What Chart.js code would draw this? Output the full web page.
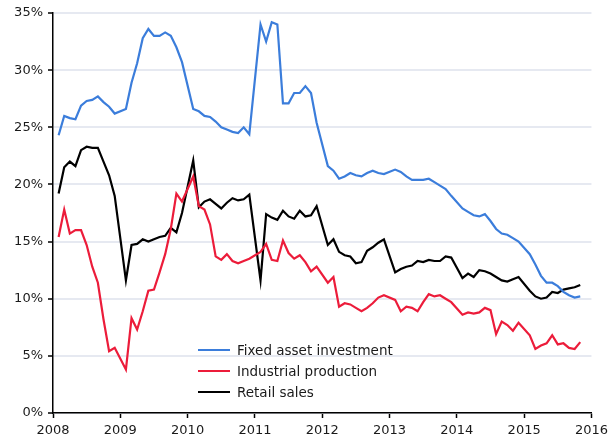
<!doctype html>
<html lang="en">
<head>
    <meta charset="utf-8">
    <title>China activity indicators</title>
    <script src="https://cdn.jsdelivr.net/npm/chart.js"></script>
    <style>
        html, body { margin: 0; padding: 0; background: #fff; }
    </style>
</head>
<body>
    <canvas id="chartEl" width="613" height="442"></canvas>
    <script>
        // monthly readings, January folded into February
        const months = [
            '2008-02', '2008-03', '2008-04', '2008-05', '2008-06', '2008-07', '2008-08', '2008-09', '2008-10', '2008-11', '2008-12',
            '2009-02', '2009-03', '2009-04', '2009-05', '2009-06', '2009-07', '2009-08', '2009-09', '2009-10', '2009-11', '2009-12',
            '2010-02', '2010-03', '2010-04', '2010-05', '2010-06', '2010-07', '2010-08', '2010-09', '2010-10', '2010-11', '2010-12',
            '2011-02', '2011-03', '2011-04', '2011-05', '2011-06', '2011-07', '2011-08', '2011-09', '2011-10', '2011-11', '2011-12',
            '2012-02', '2012-03', '2012-04', '2012-05', '2012-06', '2012-07', '2012-08', '2012-09', '2012-10', '2012-11', '2012-12',
            '2013-02', '2013-03', '2013-04', '2013-05', '2013-06', '2013-07', '2013-08', '2013-09', '2013-10', '2013-11', '2013-12',
            '2014-02', '2014-03', '2014-04', '2014-05', '2014-06', '2014-07', '2014-08', '2014-09', '2014-10', '2014-11', '2014-12',
            '2015-02', '2015-03', '2015-04', '2015-05', '2015-06', '2015-07', '2015-08', '2015-09', '2015-10', '2015-11'
        ];

        const fixedAssetInvestment = [
            24.3, 26.0, 25.8, 25.7, 26.9, 27.3, 27.4, 27.7, 27.2, 26.8, 26.2,
            26.6, 28.9, 30.6, 32.8, 33.6, 33.0, 33.0, 33.3, 33.0, 32.0, 30.7,
            26.6, 26.4, 26.0, 25.9, 25.5, 25.0, 24.8, 24.6, 24.5, 25.0, 24.4,
            34.0, 32.5, 34.2, 34.0, 27.1, 27.1, 28.0, 28.0, 28.6, 28.0, 25.4,
            21.6, 21.2, 20.5, 20.7, 21.0, 20.8, 20.7, 21.0, 21.2, 21.0, 20.9,
            21.3, 21.1, 20.7, 20.4, 20.4, 20.4, 20.5, 20.2, 19.9, 19.6, 19.0,
            17.9, 17.6, 17.3, 17.2, 17.4, 16.8, 16.1, 15.7, 15.6, 15.3, 15.0,
            13.9, 13.0, 12.0, 11.4, 11.4, 11.1, 10.6, 10.3, 10.1, 10.2
        ];

        const industrialProduction = [
            15.4, 17.8, 15.7, 16.0, 16.0, 14.7, 12.8, 11.4, 8.2, 5.4, 5.7,
            3.8, 8.3, 7.3, 8.9, 10.7, 10.8, 12.3, 13.9, 16.1, 19.2, 18.5,
            20.7, 18.1, 17.8, 16.5, 13.7, 13.4, 13.9, 13.3, 13.1, 13.3, 13.5,
            14.1, 14.8, 13.4, 13.3, 15.1, 14.0, 13.5, 13.8, 13.2, 12.4, 12.8,
            11.4, 11.9, 9.3, 9.6, 9.5, 9.2, 8.9, 9.2, 9.6, 10.1, 10.3,
            9.9, 8.9, 9.3, 9.2, 8.9, 9.7, 10.4, 10.2, 10.3, 10.0, 9.7,
            8.6, 8.8, 8.7, 8.8, 9.2, 9.0, 6.9, 8.0, 7.7, 7.2, 7.9,
            6.8, 5.6, 5.9, 6.1, 6.8, 6.0, 6.1, 5.7, 5.6, 6.2
        ];

        const retailSales = [
            19.2, 21.5, 22.0, 21.6, 23.0, 23.3, 23.2, 23.2, 22.0, 20.8, 19.0,
            11.6, 14.7, 14.8, 15.2, 15.0, 15.2, 15.4, 15.5, 16.2, 15.8, 17.5,
            22.1, 18.0, 18.5, 18.7, 18.3, 17.9, 18.4, 18.8, 18.6, 18.7, 19.1,
            11.6, 17.4, 17.1, 16.9, 17.7, 17.2, 17.0, 17.7, 17.2, 17.3, 18.1,
            14.7, 15.2, 14.1, 13.8, 13.7, 13.1, 13.2, 14.2, 14.5, 14.9, 15.2,
            12.3, 12.6, 12.8, 12.9, 13.3, 13.2, 13.4, 13.3, 13.3, 13.7, 13.6,
            11.8, 12.2, 11.9, 12.5, 12.4, 12.2, 11.9, 11.6, 11.5, 11.7, 11.9,
            10.7, 10.2, 10.0, 10.1, 10.6, 10.5, 10.8, 10.9, 11.0, 11.2
        ];

        const seriesNames = ['Fixed asset investment', 'Industrial production', 'Retail sales'];
        const seriesColors = ['#3b7ddb', '#ec1c3a', '#000000'];

        const FONT = '"DejaVu Sans", Verdana, sans-serif';

        // '2008-02' -> 2008.083
        const toYear = (m) => {
            const [y, mo] = m.split('-').map(Number);
            return y + (mo - 1) / 12;
        };
        const toPoints = (values) => values.map((v, i) => ({ x: toYear(months[i]), y: v }));

        // legend sits inside the plot, lower middle
        const insideLegend = {
            id: 'insideLegend',
            afterDatasetsDraw(chart) {
                const { ctx, chartArea } = chart;
                const x0 = chartArea.left + 145;
                const y0 = chartArea.bottom - 63;
                ctx.save();
                ctx.font = '13.5px ' + FONT;
                ctx.textBaseline = 'middle';
                chart.data.datasets.forEach((ds, i) => {
                    const y = y0 + i * 21;
                    ctx.strokeStyle = ds.borderColor;
                    ctx.lineWidth = 2;
                    ctx.beginPath();
                    ctx.moveTo(x0, y);
                    ctx.lineTo(x0 + 32, y);
                    ctx.stroke();
                    ctx.fillStyle = '#1a1a1a';
                    ctx.fillText(ds.label, x0 + 39, y + 1);
                });
                ctx.restore();
            }
        };

        const data = {
            datasets: [
                { label: seriesNames[0], data: toPoints(fixedAssetInvestment), borderColor: seriesColors[0] },
                { label: seriesNames[1], data: toPoints(industrialProduction), borderColor: seriesColors[1] },
                { label: seriesNames[2], data: toPoints(retailSales), borderColor: seriesColors[2] },
            ].map((d) => ({ ...d, borderWidth: 2.2, pointRadius: 0, tension: 0, fill: false }))
        };

        const config = {
            type: 'line',
            data: data,
            options: {
                responsive: false,
                animation: false,
                layout: { padding: { top: 13, right: 17, left: 0, bottom: 0 } },
                plugins: {
                    legend: { display: false },
                    tooltip: { enabled: false }
                },
                scales: {
                    x: {
                        type: 'linear',
                        min: 2008,
                        max: 2016,
                        afterFit: (s) => { s.height = 29; },
                        border: { color: '#000', width: 1.5 },
                        grid: { drawOnChartArea: false, drawTicks: true, tickLength: 5, tickColor: '#000', tickWidth: 1.5 },
                        ticks: {
                            stepSize: 1,
                            padding: 5,
                            color: '#1a1a1a',
                            font: { family: FONT, size: 13 },
                            maxRotation: 0,
                            callback: (v) => String(v)
                        }
                    },
                    y: {
                        min: 0,
                        max: 35,
                        afterFit: (s) => { s.width = 53; },
                        border: { color: '#000', width: 1.5 },
                        grid: { color: '#e6e9f1', lineWidth: 2, tickLength: 5, tickColor: '#000', tickWidth: 1.5 },
                        ticks: {
                            stepSize: 5,
                            padding: 5,
                            color: '#1a1a1a',
                            font: { family: FONT, size: 13 },
                            callback: (v) => v + '%'
                        }
                    }
                }
            },
            plugins: [insideLegend]
        };

        const myChart = new Chart(document.getElementById('chartEl'), config);
    </script>
</body>
</html>
